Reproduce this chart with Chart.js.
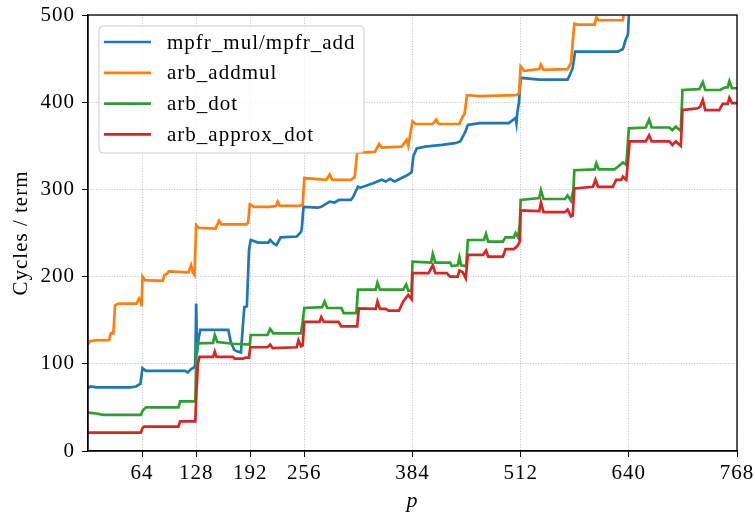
<!DOCTYPE html>
<html>
<head>
<meta charset="utf-8">
<script src="https://cdn.jsdelivr.net/npm/chart.js@4.4.0/dist/chart.umd.min.js"></script>
<style>
  html, body { margin: 0; padding: 0; background: #fff; }
  #wrap { width: 755px; height: 514px; }
</style>
</head>
<body>
<div id="wrap"><canvas id="cyclesChart" width="755" height="514"></canvas></div>
<script>
// [p, cycles per term]
const mpfrMulAdd = [
  [0,72],[3,74],[10,73],[30,73],[50,73],[57,74],[60,76],[62,77],[64.5,95],[68.5,92],[101,92],[115,92],
  [118,90],[122,94],[126,96],[127,100],[128,169],[129,112],[131,130],[133,139],[151,139],[166,139],
  [169,125],[173,116],[177,114],[181,113],[183,140],[185,165],[188,166],[190.5,230],[192.5,242],
  [201.5,239],[213.5,239],[215.5,242],[219.5,238],[223,236],[228,245],[247,246],[252,251],[253,255],
  [255,280],[272,279],[276,280],[286,286],[292,285],[297,288],[311,288],[313.5,291],[319.5,303],
  [322.5,302],[331.5,305],[337.5,307],[347.5,311],[352.5,309],[357.5,312],[363,309],[371,313],[379,317],
  [383,320],[385,338],[389,347],[399,349],[419,351],[434.5,353],[440.5,355],[446.5,366],[449.5,374],
  [463.5,376],[484,376],[498,376],[506,382],[507,376],[508,388],[510,400],[512,428],[534,426],[567.5,426],
  [570.5,432],[573.5,439],[576.5,458],[604.5,458],[627,458],[633,461],[636,471],[639,478],[641,520]
];
const arbAddmul = [
  [0,122],[2,126],[10,127],[25,127],[27,135],[30,135],[32,167],[36,169],[57.5,169],[60.5,175],[62.5,172],
  [63.5,166],[64.5,200],[67.5,196],[88.5,195],[90.5,202],[93.5,203],[95.5,206],[119,205],[122,213],
  [124,205],[126,202],[128,259],[131,256],[151,255],[155,264],[158,260],[187.5,260],[189.5,262],
  [191.5,283],[196.5,280],[214.5,280],[222.5,281],[224.5,286],[227,281],[248,281],[254,282],[256,313],
  [282,311],[286,317],[289,311],[311,311],[315.5,314],[318.5,342],[339.5,343],[344.5,352],[347.5,348],
  [371,349],[377,357],[379,350],[384,378],[388,375],[408,375],[412,380],[415,375],[439.5,375],[443.5,384],
  [445.5,386],[448.5,408],[463.5,407],[507,408],[510,410],[512,441],[516,436],[534,438],[536,443],
  [539,437],[567.5,438],[571.5,445],[575.5,490],[579.5,489],[599.5,489],[601.5,497],[604.5,494],
  [633,494],[635,510]
];
const arbDot = [
  [0,44],[10,43],[18,41.5],[62.5,41.5],[64.5,46],[68.5,50],[107,50],[109,57],[127,57],[128,100],
  [129,123.5],[148,124],[150,133],[153,125],[171.5,123],[191.5,122],[192.5,133],[212.5,133],[215.5,140],
  [219.5,135],[252,135],[254,148],[256,164],[277,165],[280,171.5],[283,164],[300,164],[302.5,158],
  [317.5,158],[319.5,185],[340.5,185],[342.5,193],[345.5,185],[373,185],[376.5,191],[379,184],[383,184],
  [384,217],[406,216],[408,226],[411,216],[428.5,216],[430.5,212],[437.5,213],[439.5,222],[441.5,213],
  [447.5,212],[449.5,242],[468.5,242],[471,249],[473.5,240],[491,240],[494,245],[504,245],[506,250],
  [509,245],[511,260],[512,288],[534,290],[536,299],[539,289],[564.5,289],[567.5,293],[571.5,287],
  [574.5,300],[575.5,322],[599.5,323],[601.5,330],[604.5,323],[623,323],[627,326],[633,331],[637,328],
  [640,370],[660,371],[664,380],[667,371],[688,371],[691.5,368],[695.5,372],[701.5,367],[703.5,414],
  [723.5,415],[727.5,423],[730.5,414],[748,414],[754,417],[757,417],[759,424],[762,416],[768,416]
];
const arbApproxDot = [
  [0,21],[62.5,21],[64.5,26],[66.5,28],[107,28],[109,34],[127,34],[128,60],[130,100],[132,108],[148,108],
  [150,114],[152,108],[171.5,108],[173.5,106],[183.5,106],[186.5,107],[190.5,107],[192,119],[212.5,119],
  [215.5,122],[218.5,118],[247,119],[249,127],[252,120],[254,121],[256,148],[274,148],[276,153.5],
  [279,148],[296.5,148],[299.5,143],[318.5,143],[320.5,163.6],[340.5,163],[342.5,171.5],[345.5,163],
  [352.5,163],[355.5,161],[368,161],[373,171.5],[379,179],[383,174],[384,204],[403,204],[408,213],
  [411,204],[424.5,204],[428.5,200],[437.5,200],[439.5,207],[443.5,205],[447,198],[449.5,225],
  [467.5,225],[471,230],[473.5,223],[491,223],[494,231.6],[504,231.6],[508,235],[511,240],[512,276],
  [534,275],[536,285],[539,274],[564.5,274],[567.5,277],[571.5,269],[573.5,270],[575.5,301],[597.5,303],
  [600.5,311],[603.5,303],[621,303],[625,311],[631,311],[633,314.6],[637,311],[641,355],[660,355],
  [664,362],[667,355],[688,355],[691.5,351],[695.5,355],[701.5,350],[703.5,391],[721.5,393],[724.5,395],
  [727.5,402.5],[730.5,391],[747,391],[751,398],[757,398],[759,405],[762,399],[768,399]
];

const seriesNames = ['mpfr_mul/mpfr_add', 'arb_addmul', 'arb_dot', 'arb_approx_dot'];
const seriesColors = ['#1f77b4', '#ff7f0e', '#2ca02c', '#d62728'];
const xTicks = [64, 128, 192, 256, 384, 512, 640, 768];
const yTicks = [0, 100, 200, 300, 400, 500];

const serif = "'Liberation Serif', 'Times New Roman', serif";
const allSeries = [mpfrMulAdd, arbAddmul, arbDot, arbApproxDot];

const datasets = allSeries.map((s, i) => ({
  label: seriesNames[i],
  data: s.map(d => ({ x: d[0], y: d[1] })),
  borderColor: seriesColors[i],
  backgroundColor: seriesColors[i],
  borderWidth: 2.7,
  pointRadius: 0,
  tension: 0,
  order: 3 - i
}));

// fixed axis boxes so the plot area lands where the original one is
function noPad(scale) {
  scale.paddingTop = 0;
  scale.paddingBottom = 0;
  scale.paddingLeft = 0;
  scale.paddingRight = 0;
}

// box around the plot and the legend, matplotlib style
const framePlugin = {
  id: 'frame',
  beforeDraw(chart) {
    chart.ctx.letterSpacing = '1px';
  },
  afterDraw(chart) {
    const { ctx, chartArea: a } = chart;
    ctx.save();
    ctx.strokeStyle = '#000';
    ctx.lineWidth = 1.3;
    ctx.strokeRect(a.left, a.top, a.right - a.left, a.bottom - a.top);

    const bx = a.left + 11, by = a.top + 11, bw = 265, bh = 127;
    ctx.beginPath();
    ctx.roundRect(bx, by, bw, bh, 4);
    ctx.fillStyle = 'rgba(255,255,255,0.8)';
    ctx.fill();
    ctx.strokeStyle = '#cccccc';
    ctx.lineWidth = 1;
    ctx.stroke();

    ctx.font = '21px ' + serif;
    ctx.textBaseline = 'middle';
    ctx.fillStyle = '#000';
    ctx.letterSpacing = '1px';
    seriesNames.forEach((name, i) => {
      const y = by + 16 + i * 30.8;
      ctx.beginPath();
      ctx.moveTo(bx + 5, y);
      ctx.lineTo(bx + 52, y);
      ctx.strokeStyle = seriesColors[i];
      ctx.lineWidth = 2.7;
      ctx.stroke();
      ctx.fillText(name, bx + 68, y + 1);
    });
    ctx.restore();
  }
};

new Chart(document.getElementById('cyclesChart'), {
  type: 'line',
  data: { datasets: datasets },
  plugins: [framePlugin],
  options: {
    responsive: false,
    animation: false,
    layout: { padding: { top: 15, right: 18, left: 0, bottom: 0 } },
    plugins: { legend: { display: false }, tooltip: { enabled: false } },
    scales: {
      x: {
        type: 'linear',
        min: 0,
        max: 768,
        afterBuildTicks: scale => { scale.ticks = xTicks.map(v => ({ value: v })); },
        afterFit: scale => { scale.height = 63; noPad(scale); },
        ticks: { color: '#000', font: { family: serif, size: 21 }, padding: 4, maxRotation: 0, autoSkip: false },
        grid: { color: '#b0b0b0', lineWidth: 0.8, tickColor: '#000', tickLength: 6, tickWidth: 1, tickBorderDash: [] },
        border: { display: true, color: '#000', width: 1.3, dash: [1, 1.6] },
        title: { display: true, text: 'p', color: '#000', font: { family: serif, size: 22, style: 'italic' }, padding: { top: 0, bottom: 0 } }
      },
      y: {
        min: 0,
        max: 500,
        afterBuildTicks: scale => { scale.ticks = yTicks.map(v => ({ value: v })); },
        afterFit: scale => { scale.width = 88; noPad(scale); },
        ticks: { color: '#000', font: { family: serif, size: 21 }, padding: 7 },
        grid: { color: '#b0b0b0', lineWidth: 0.8, tickColor: '#000', tickLength: 6, tickWidth: 1, tickBorderDash: [] },
        border: { display: true, color: '#000', width: 1.3, dash: [1, 1.6] },
        title: { display: true, text: 'Cycles / term', color: '#000', font: { family: serif, size: 21 }, padding: { top: 9, bottom: 0 } }
      }
    }
  }
});
</script>
</body>
</html>
